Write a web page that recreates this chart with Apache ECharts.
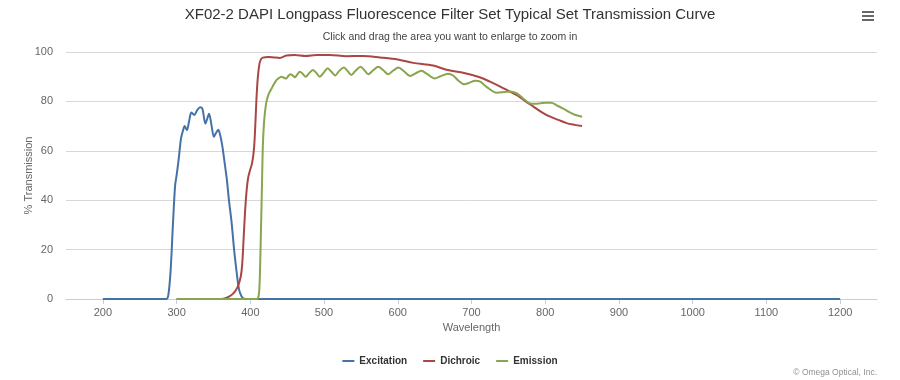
<!DOCTYPE html>
<html>
<head>
<meta charset="utf-8">
<script src="https://cdn.jsdelivr.net/npm/echarts@6/dist/echarts.min.js"></script>
<style>html,body{margin:0;padding:0;background:#fff}#c{width:900px;height:380px}</style>
</head>
<body>
<div id="c"></div>
<script>
const xTicks = [200,300,400,500,600,700,800,900,1000,1100,1200];
const yTicks = [0,20,40,60,80,100];

const excitationWl = [200,286,289,292,295,298,300,303,306,309,311,314,317,320,324,328,332,335,339,341,344,347,350.6,353,356.5,359,362,365,368,371,374.6,378,381.4,384,386,390,394,1200];
const excitationT  = [0,0,2,12,30,46,50,57,65,68.5,70,68.4,72,75.5,74.5,76.5,77.6,77,71,72.5,75,71,65.7,67,68.5,66.5,62,55.5,48.8,40,31,20,11,5,2.5,0.3,0,0];

const dichroicWl = [300,360,368,374,379,383,387,389,391,393,395,397,399.5,402,404,405.5,407,408.5,410,412,414,417,425,432,440,449,460,475,490,508,530,553,576,600,621,648,666,690,711,725,739,750,761,772,784,795,806,818,829,840,850];
const dichroicT  = [0,0,0.5,1.5,3,5,9,14,25,36,44,49,52,54.5,58,63,72,82,89,94.5,96.8,97.7,98,97.8,97.6,98.6,98.8,98.4,98.8,98.8,98.3,98.4,97.8,97,95.6,94.5,92.8,91.5,89.8,88,86,84.3,82.6,80.3,77.9,75.7,73.9,72.5,71.2,70.5,70];

const emissionWl = [300,408,410.5,412,413,414,415,416,417,418.5,420,422,425,429,432,435.7,439,442.5,446,449,452,454.5,457.5,460.5,464,467,471,475,480,485,490,494,500,505,510,515,521,527,532,537,543,549.5,555,560,567,573.5,580,587,594,601,608,617,624,632,640,650,658,668,675,682,690,697,705,712,720,734,745,752,761,770,779,786,793,801,808,815,825,832,840,850];
const emissionT  = [0,0,0.5,3,10,22,35,49,62,71,76,80,83,85.3,87,88.7,89.5,90,89.5,89.3,90.5,91,90.5,89.8,91,92,91.2,90,91.5,92.7,91.4,90,91.8,93.4,92,90.5,92.5,93.7,92.3,90.7,92.5,94,92.5,91,92.7,94,92.7,91,92.5,93.7,92.3,90.3,91.3,92.4,91,89.3,90.2,91.2,90.5,88.5,86.9,87.5,88.4,88,86,83.5,83.8,84,83.3,81.2,79.2,79,79.2,79.5,79.5,78.5,77,75.8,74.6,73.8];

const seriesNames = ['Excitation','Dichroic','Emission'];
const colors = ['#4572A7','#AA4643','#89A54E'];

function zip(a,b){return a.map((v,i)=>[v,b[i]]);}
const seriesData = [zip(excitationWl,excitationT), zip(dichroicWl,dichroicT), zip(emissionWl,emissionT)];

const chart = echarts.init(document.getElementById('c'), null, {renderer:'canvas'});
const font = 'Liberation Sans, Arial, sans-serif';
chart.setOption({
  animation:false,
  color: colors,
  textStyle:{fontFamily:font},
  title:[
    {text:'XF02-2 DAPI Longpass Fluorescence Filter Set Typical Set Transmission Curve', left:'center', top:2,
     textStyle:{fontSize:15, fontWeight:'normal', color:'#333', fontFamily:font}},
    {text:'Click and drag the area you want to enlarge to zoom in', left:'center', top:27,
     textStyle:{fontSize:10.5, fontWeight:'normal', color:'#444', fontFamily:font}}
  ],
  grid:{left:66, right:23, top:52, bottom:81, containLabel:false},
  legend:{bottom:9, left:'center', itemWidth:12, itemHeight:2, icon:'rect', itemGap:16,
    data:seriesNames,
    textStyle:{fontSize:10, fontWeight:'bold', color:'#333', fontFamily:font}},
  xAxis:{type:'value', min:150, max:1250,
    name:'Wavelength', nameLocation:'middle', nameGap:23,
    nameTextStyle:{color:'#666', fontSize:11},
    axisLine:{show:true, lineStyle:{color:'#C0D0E0', width:1}},
    axisTick:{show:true, length:5, lineStyle:{color:'#C0D0E0'}, customValues:xTicks},
    axisLabel:{color:'#666', fontSize:11, margin:8, customValues:xTicks, formatter:v=>String(v)},
    splitLine:{show:false}},
  yAxis:{type:'value', min:0, max:100, interval:20,
    name:'% Transmission', nameLocation:'middle', nameGap:32, nameRotate:90, nameMoveOverlap:false,
    nameTextStyle:{color:'#666', fontSize:11},
    axisLine:{show:false}, axisTick:{show:false},
    axisLabel:{color:'#666', fontSize:11, margin:13, formatter:v=>String(v)},
    splitLine:{lineStyle:{color:'#D8D8D8', width:1}}},
  graphic:[
    {type:'rect', left:862, top:11, shape:{width:12,height:2}, style:{fill:'#666'}},
    {type:'rect', left:862, top:15, shape:{width:12,height:2}, style:{fill:'#666'}},
    {type:'rect', left:862, top:19, shape:{width:12,height:2}, style:{fill:'#666'}},
    {type:'text', right:23, bottom:3, style:{text:'© Omega Optical, Inc.', fill:'#909090', font:'8.5px '+font}}
  ],
  series: seriesNames.map((n,i)=>({
    name:n, type:'line', data:seriesData[i], showSymbol:false, smooth:0.3,
    lineStyle:{width:2, color:colors[i]}, itemStyle:{color:colors[i]}
  }))
});
</script>
</body>
</html>
